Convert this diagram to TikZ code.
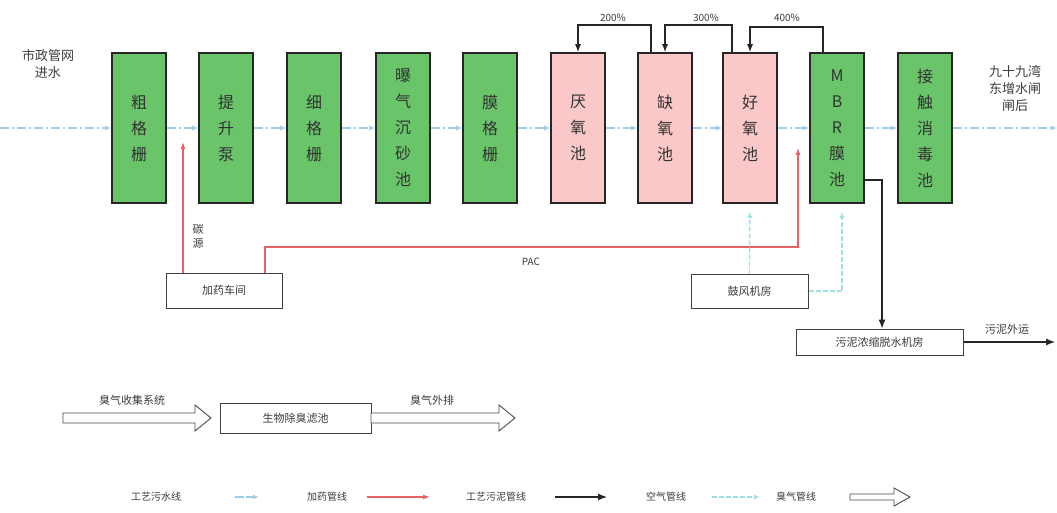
\documentclass[tikz,border=0pt]{standalone}
\usepackage{fontspec}
\setmainfont{Noto Sans CJK SC}
\usetikzlibrary{arrows.meta}
\definecolor{boxgreen}{RGB}{106,196,106}
\definecolor{boxpink}{RGB}{250,200,200}
\definecolor{flowblue}{RGB}{160,205,235}
\definecolor{chemred}{RGB}{228,100,100}
\definecolor{airc}{RGB}{160,225,228}
\definecolor{txt}{RGB}{60,60,60}
\newcommand{\hollowarr}[5]{% x1 x2 y bodyhalf headhalf (head length 16)
  \draw[black!70, line width=0.9pt, fill=white]
    (#1,#3-#4) -- (#2-16,#3-#4) -- (#2-16,#3-#5) -- (#2,#3) -- (#2-16,#3+#5)
    -- (#2-16,#3+#4) -- (#1,#3+#4) -- cycle;}
\tikzset{
  proc/.style={draw=black!85, line width=1.6pt, minimum width=54pt, minimum height=150pt,
    inner sep=0pt, align=center, text=black!80, font=\fontsize{16pt}{26pt}\selectfont},
  greenbox/.style={proc, fill=boxgreen},
  pinkbox/.style={proc, fill=boxpink},
  unit/.style={draw=black!75, line width=1pt, fill=white, inner sep=0pt, text=txt,
    font=\fontsize{11pt}{13pt}\selectfont},
  lbl/.style={text=txt, inner sep=0pt, align=center, font=\fontsize{11pt}{14pt}\selectfont},
  flow/.style={flowblue, line width=1.6pt, dash pattern=on 9pt off 3pt on 2pt off 3pt,
    -{Latex[length=6pt,width=5pt]}},
  chem/.style={chemred, line width=1.2pt, -{Latex[length=7pt,width=5pt]}},
  sludge/.style={black!85, line width=1.2pt, -{Latex[length=9pt,width=7pt]}},
  recyc/.style={black!85, line width=1.1pt, -{Latex[length=8pt,width=6pt]}},
  air/.style={airc, line width=1.3pt, dash pattern=on 5pt off 2pt, -{Latex[length=6pt,width=5pt]}},
}
\begin{document}
\begin{tikzpicture}[x=1pt,y=-1pt]
\useasboundingbox (0,0) rectangle (1057,513);
\fill[white] (0,0) rectangle (1057,513);

% main process boxes
\node[greenbox] (b1) at (139,128) {粗\\格\\栅};
\node[greenbox] (b2) at (226,128) {提\\升\\泵};
\node[greenbox] (b3) at (314,128) {细\\格\\栅};
\node[greenbox] (b4) at (403,128) {曝\\气\\沉\\砂\\池};
\node[greenbox] (b5) at (490,128) {膜\\格\\栅};
\node[pinkbox]  (b6) at (578,128) {厌\\氧\\池};
\node[pinkbox]  (b7) at (665,128) {缺\\氧\\池};
\node[pinkbox]  (b8) at (750,128) {好\\氧\\池};
\node[greenbox] (b9) at (837,128) {M\\B\\R\\膜\\池};
\node[greenbox] (b10) at (925,128) {接\\触\\消\\毒\\池};

% inlet / outlet
\coordinate (in) at (0,128);
\coordinate (out) at (1057,128);
\node[lbl, font=\fontsize{13pt}{17pt}\selectfont] (inlbl) at (48,64) {市政管网\\进水};
\node[lbl, font=\fontsize{13pt}{17pt}\selectfont] (outlbl) at (1015,88) {九十九湾\\东增水闸\\闸后};

% main flow
\draw[flow] (in) -- (b1.west);
\draw[flow] (b1.east) -- (b2.west);
\draw[flow] (b2.east) -- (b3.west);
\draw[flow] (b3.east) -- (b4.west);
\draw[flow] (b4.east) -- (b5.west);
\draw[flow] (b5.east) -- (b6.west);
\draw[flow] (b6.east) -- (b7.west);
\draw[flow] (b7.east) -- (b8.west);
\draw[flow] (b8.east) -- (b9.west);
\draw[flow] (b9.east) -- (b10.west);
\draw[flow] (b10.east) -- (out);

% recycle lines
\draw[recyc] (b7.north -| 651,0) |- (613,25) -| (b6.north);
\draw[recyc] (b8.north -| 732,0) |- (700,25) -| (b7.north);
\draw[recyc] (b9.north -| 823,0) |- (790,27) -| (b8.north);
\node[lbl, font=\fontsize{10pt}{12pt}\selectfont, fill=white, inner sep=1pt] (r1) at (613,18) {200\%};
\node[lbl, font=\fontsize{10pt}{12pt}\selectfont, fill=white, inner sep=1pt] (r2) at (706,18) {300\%};
\node[lbl, font=\fontsize{10pt}{12pt}\selectfont, fill=white, inner sep=1pt] (r3) at (787,18) {400\%};

% chemical dosing
\node[unit, minimum width=116pt, minimum height=35pt] (jy) at (224,290.5) {加药车间};
\coordinate (c1) at (183,142);
\coordinate (c2) at (798,148);
\draw[chem] (jy.north -| c1) -- (c1);
\draw[chem] (jy.north -| 265,0) |- (530,247) -| (c2);
\node[lbl] (tanyuan) at (198,236) {碳\\源};
\node[lbl, font=\fontsize{10pt}{12pt}\selectfont] (pac) at (531,262) {PAC};

% blower
\node[unit, minimum width=117pt, minimum height=34pt] (gf) at (749.5,291) {鼓风机房};
\coordinate (a2) at (842,212);
\draw[air, shorten >=8pt] (gf.north) -- (b8.south);
\draw[air] (gf.east) -| (a2);

% sludge
\node[unit, minimum width=167pt, minimum height=26pt] (wn) at (879.5,342) {污泥浓缩脱水机房};
\coordinate (sout) at (1055,342);
\draw[sludge] (b9.east |- 0,180) -| (wn.north -| 882,0);
\draw[sludge] (wn.east) -- (sout);
\node[lbl] (wylbl) at (1007,329) {污泥外运};

% odour
\node[unit, minimum width=151pt, minimum height=30pt] (sw) at (295.5,418) {生物除臭滤池};
\hollowarr{63}{211}{418}{5}{13}
\hollowarr{371}{515}{418}{5}{13}
\node[lbl] (cq1) at (132,400) {臭气收集系统};
\node[lbl] (cq2) at (432,400) {臭气外排};

% legend
\begin{scope}[every node/.style={lbl, font=\fontsize{10pt}{12pt}\selectfont}]
\node (l1) at (156,497) {工艺污水线};
\node (l2) at (327,497) {加药管线};
\node (l3) at (496,497) {工艺污泥管线};
\node (l4) at (666,497) {空气管线};
\node (l5) at (796,497) {臭气管线};
\end{scope}
\draw[flow, dash pattern=on 9pt off 2pt] (235,497) -- (259,497);
\draw[chem] (367,497) -- (430,497);
\draw[sludge] (555,497) -- (607,497);
\draw[air] (712,497) -- (760,497);
\hollowarr{850}{910}{497}{3}{9}
\end{tikzpicture}
\end{document}
